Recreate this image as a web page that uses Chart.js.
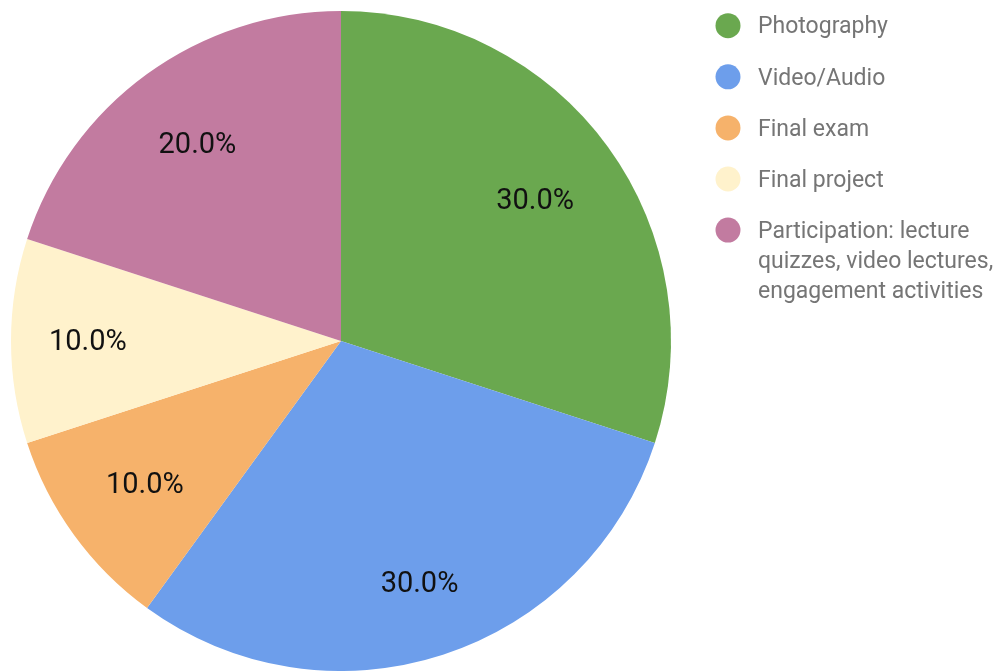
<!DOCTYPE html>
<html>
<head>
<meta charset="utf-8">
<script src="https://cdn.jsdelivr.net/npm/chart.js@4.4.1/dist/chart.umd.min.js"></script>
<style>
  html, body { margin: 0; padding: 0; background: #fff; }
  #wrap { width: 999px; height: 671px; position: relative; }
</style>
</head>
<body>
<div id="wrap"><canvas id="myChart" width="999" height="671"></canvas></div>
<script>
const categories = [
    "Photography",
    "Video/Audio",
    "Final exam",
    "Final project",
    ["Participation: lecture", "quizzes, video lectures,", "engagement activities"]
];
const weights = [30, 30, 10, 10, 20];
const sliceColors = ["#6aa84f", "#6d9eeb", "#f6b26b", "#fff2cc", "#c27ba0"];

// percentage text inside each slice
const sliceLabels = {
    id: "sliceLabels",
    afterDatasetsDraw(chart, args, opts) {
        const ctx = chart.ctx;
        const meta = chart.getDatasetMeta(0);
        const data = chart.data.datasets[0].data;
        const total = data.reduce((a, b) => a + b, 0);
        ctx.save();
        ctx.font = "29px Roboto";
        ctx.fillStyle = "#111";
        ctx.textAlign = "center";
        ctx.textBaseline = "middle";
        meta.data.forEach((arc, i) => {
            const mid = (arc.startAngle + arc.endAngle) / 2;
            const r = arc.outerRadius * opts.radius[i];
            const x = arc.x + Math.cos(mid) * r;
            const y = arc.y + Math.sin(mid) * r + 2;
            ctx.fillText((data[i] / total * 100).toFixed(1) + "%", x, y);
        });
        ctx.restore();
    }
};

// legend on the right, with wrapped text
const sideLegend = {
    id: "sideLegend",
    afterDraw(chart) {
        const ctx = chart.ctx;
        const colors = chart.data.datasets[0].backgroundColor;
        let y = 25.7;
        ctx.save();
        ctx.font = "23px Roboto";
        ctx.textBaseline = "middle";
        chart.data.labels.forEach((lbl, i) => {
            ctx.fillStyle = colors[i];
            ctx.beginPath();
            ctx.arc(728, y, 12.5, 0, Math.PI * 2);
            ctx.fill();
            ctx.fillStyle = "#757575";
            const lines = Array.isArray(lbl) ? lbl : [lbl];
            lines.forEach((t, j) => ctx.fillText(t, 758, y + 2 + j * 30));
            y += 51.1;
        });
        ctx.restore();
    }
};

const ctx = document.getElementById("myChart").getContext("2d");
const myChart = new Chart(ctx, {
    type: "pie",
    data: {
        labels: categories,
        datasets: [{
            data: weights,
            backgroundColor: sliceColors,
            borderWidth: 0
        }]
    },
    options: {
        responsive: false,
        animation: false,
        layout: { padding: { left: 11, top: 11, right: 328, bottom: 0 } },
        plugins: {
            legend: { display: false },
            tooltip: { enabled: false },
            sliceLabels: { radius: [0.727, 0.77, 0.735, 0.767, 0.74] }
        }
    },
    plugins: [sliceLabels, sideLegend]
});
</script>
</body>
</html>
